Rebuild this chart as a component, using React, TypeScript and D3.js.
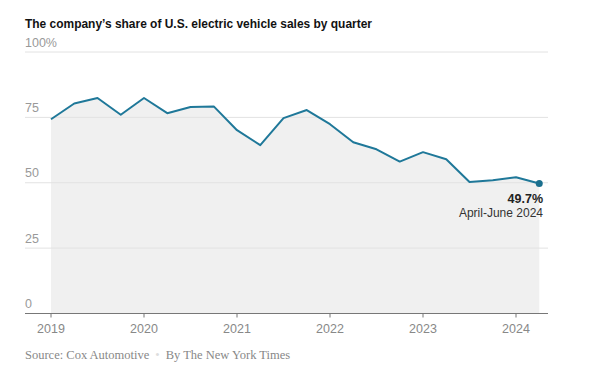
import React from "react";
import * as d3 from "d3";

const quarters: number[] = [
  2019.0, 2019.25, 2019.5, 2019.75,
  2020.0, 2020.25, 2020.5, 2020.75,
  2021.0, 2021.25, 2021.5, 2021.75,
  2022.0, 2022.25, 2022.5, 2022.75,
  2023.0, 2023.25, 2023.5, 2023.75,
  2024.0, 2024.25,
];
const shares: number[] = [
  74.3, 80.3, 82.4, 76.0,
  82.4, 76.6, 79.0, 79.2,
  70.1, 64.4, 74.7, 77.8,
  72.4, 65.5, 62.8, 58.1,
  61.7, 59.0, 50.3, 51.0,
  52.1, 49.7,
];
const yTicks: number[] = [0, 25, 50, 75, 100];
const xTicks: number[] = [2019, 2020, 2021, 2022, 2023, 2024];

const W = 600;
const H = 379;

export default function App() {
  const x = d3.scaleLinear().domain([2019, 2024]).range([51, 516]);
  const y = d3.scaleLinear().domain([0, 100]).range([313.5, 52]);
  const pts = quarters.map((q, i) => [q, shares[i]] as [number, number]);
  const line = d3.line<[number, number]>().x(d => x(d[0])).y(d => y(d[1]));
  const area = d3.area<[number, number]>().x(d => x(d[0])).y0(y(0)).y1(d => y(d[1]));
  const last = pts[pts.length - 1];
  const sans = "'Liberation Sans', Arial, sans-serif";
  const serif = "'Liberation Serif', Georgia, serif";
  return (
    <svg width={W} height={H} style={{ position: "absolute", left: 0, top: 0, background: "#fff" }}>
      <text x={25} y={28} fontFamily={sans} fontWeight={700} fontSize={13} fill="#121212"
        textLength={347} lengthAdjust="spacingAndGlyphs">
        The company’s share of U.S. electric vehicle sales by quarter
      </text>
      <path d={area(pts) || ""} fill="#f0f0f0" />
      {yTicks.map(t => (
        <g key={t}>
          {t > 0 && <line x1={25} x2={548} y1={y(t)} y2={y(t)} stroke="#e2e2e2" strokeWidth={1} />}
          <text x={25} y={y(t) - 5.5} fontFamily={sans} fontSize={12.5} fill="#999">
            {t === 100 ? "100%" : String(t)}
          </text>
        </g>
      ))}
      <line x1={25} x2={548} y1={y(0)} y2={y(0)} stroke="#777" strokeWidth={1} />
      {xTicks.map(t => (
        <g key={t}>
          <line x1={x(t)} x2={x(t)} y1={y(0)} y2={y(0) + 4} stroke="#777" strokeWidth={1} />
          <text x={x(t)} y={333} textAnchor="middle" fontFamily={sans} fontSize={12.5} fill="#888">
            {t}
          </text>
        </g>
      ))}
      <path d={line(pts) || ""} fill="none" stroke="#1f7899" strokeWidth={2} strokeLinejoin="round" />
      <circle cx={x(last[0])} cy={y(last[1])} r={3.5} fill="#1a6f8e" />
      <text x={543} y={203} textAnchor="end" fontFamily={sans} fontWeight={700} fontSize={12.5} fill="#222">
        {last[1].toFixed(1)}%
      </text>
      <text x={543} y={217} textAnchor="end" fontFamily={sans} fontSize={12} fill="#333">
        April-June 2024
      </text>
      <text x={25} y={359} fontFamily={serif} fontSize={12.5} fill="#888">
        <tspan>Source: Cox Automotive</tspan>
        <tspan dx={6} fill="#ddd">•</tspan>
        <tspan dx={6}>By The New York Times</tspan>
      </text>
    </svg>
  );
}
